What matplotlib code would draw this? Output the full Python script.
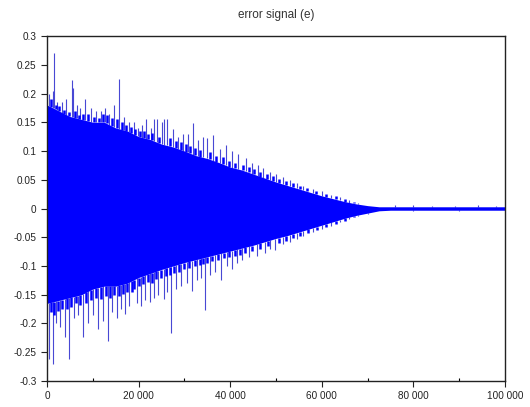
import matplotlib
matplotlib.use("Agg")
import matplotlib.pyplot as plt
from matplotlib.ticker import FuncFormatter, MultipleLocator
import numpy as np

plt.rcParams['font.family'] = ['Liberation Sans', 'DejaVu Sans']

# solid body of the error signal (envelope), samples
body_x = [0, 2500, 5000, 7500, 10000, 12500, 15000, 17500, 20000, 22500,
          25000, 27500, 30000, 32500, 35000, 37500, 40000, 42500, 45000, 47500,
          50000, 52500, 55000, 57500, 60000, 62500, 65000, 67500, 70000, 72500,
          75000, 80000, 85000, 90000, 95000, 100000]
body_top = [0.18, 0.17, 0.16, 0.155, 0.15, 0.15, 0.14, 0.135, 0.125, 0.12,
            0.112, 0.107, 0.1, 0.092, 0.087, 0.08, 0.072, 0.067, 0.06, 0.053,
            0.046, 0.04, 0.034, 0.028, 0.022, 0.017, 0.012, 0.008, 0.005, 0.003,
            0.003, 0.003, 0.003, 0.003, 0.003, 0.003]
body_bot = [-0.165, -0.16, -0.155, -0.15, -0.14, -0.135, -0.135, -0.13, -0.12, -0.113,
            -0.106, -0.1, -0.094, -0.089, -0.084, -0.079, -0.074, -0.069, -0.064, -0.058,
            -0.052, -0.047, -0.041, -0.035, -0.029, -0.023, -0.017, -0.012, -0.008, -0.004,
            -0.003, -0.003, -0.003, -0.003, -0.003, -0.003]

# big peaks sticking out of the body
peak_up_x = [500, 1200, 1500, 2200, 3300, 4200, 5400, 5700, 6500, 7200, 8400, 9600,
             10700, 11800, 12600, 13500, 14600, 15700, 16800, 17800, 18900, 19800,
             20800, 21700, 22600, 23400, 24000, 25000, 25500, 26200, 27500, 28700,
             29800, 30800, 31900, 33000, 34000, 34900, 36300, 37800, 39000, 40500,
             41800, 43400, 44700, 46000, 47200, 48700, 50000, 51500, 53000, 54500,
             56000, 58000, 60000, 62000, 64000, 66000, 68000, 76000, 80000, 84000,
             89000, 94000, 98000]
peak_up = [0.20, 0.205, 0.27, 0.185, 0.185, 0.19, 0.223, 0.21, 0.18, 0.175, 0.19, 0.175,
           0.17, 0.17, 0.175, 0.165, 0.18, 0.226, 0.16, 0.15, 0.15, 0.14,
           0.145, 0.155, 0.14, 0.155, 0.155, 0.15, 0.155, 0.155, 0.139, 0.125,
           0.13, 0.13, 0.148, 0.12, 0.125, 0.122, 0.127, 0.104, 0.11, 0.1,
           0.095, 0.087, 0.08, 0.075, 0.07, 0.063, 0.06, 0.055, 0.05, 0.045,
           0.04, 0.034, 0.03, 0.024, 0.02, 0.015, 0.01, 0.006, 0.006, 0.005,
           0.005, 0.006, 0.005]
peak_dn_x = [500, 1200, 2000, 2800, 3900, 4800, 5800, 6800, 7900, 9000, 10000, 11100,
             12200, 13300, 14200, 15200, 16100, 17000, 18000, 19600, 20500, 21500,
             22500, 23400, 24300, 25500, 26300, 27100, 28200, 29300, 30500, 31700,
             32800, 33700, 34500, 35500, 36700, 38000, 39200, 40400, 41500, 42600,
             44000, 45900, 47500, 48700, 49800, 51500, 53000, 54500, 56000, 58000,
             60000, 62000, 64000, 66000, 68000, 70000, 80000, 90000]
peak_dn = [-0.261, -0.27, -0.2, -0.206, -0.224, -0.262, -0.19, -0.185, -0.224, -0.2, -0.185, -0.209,
           -0.195, -0.23, -0.18, -0.19, -0.175, -0.183, -0.17, -0.165, -0.17, -0.16,
           -0.162, -0.155, -0.15, -0.157, -0.145, -0.217, -0.14, -0.135, -0.13, -0.143,
           -0.125, -0.12, -0.176, -0.115, -0.11, -0.125, -0.1, -0.105, -0.095, -0.09,
           -0.085, -0.083, -0.078, -0.07, -0.073, -0.062, -0.058, -0.053, -0.047, -0.04,
           -0.035, -0.03, -0.024, -0.018, -0.013, -0.009, -0.005, -0.005]

# smaller bumps along the edge of the body
bump_up_x = [900, 1900, 2700, 3700, 4700, 6100, 6900, 7800, 9000, 10200, 11300, 12200,
             13000, 14100, 15200, 16300, 17300, 18400, 19300, 20300, 21200, 22100,
             23000, 24500, 26800, 28100, 29200, 30300, 31300, 32400, 33500, 35600,
             36900, 38400, 39700, 41100, 42700, 44000, 45300, 46600, 48000, 49300,
             50700, 52200, 53700, 55200, 56800, 58800, 61000, 63000, 65000, 67000]
bump_up = [0.19, 0.18, 0.178, 0.172, 0.168, 0.17, 0.162, 0.165, 0.165, 0.16, 0.158, 0.165,
           0.162, 0.158, 0.155, 0.15, 0.145, 0.142, 0.138, 0.135, 0.135, 0.13,
           0.132, 0.125, 0.122, 0.118, 0.115, 0.112, 0.108, 0.105, 0.102, 0.098,
           0.092, 0.09, 0.083, 0.08, 0.076, 0.072, 0.068, 0.064, 0.06, 0.056,
           0.052, 0.048, 0.044, 0.04, 0.036, 0.031, 0.026, 0.021, 0.016, 0.012]
bump_dn_x = [800, 1600, 2400, 3300, 4300, 5200, 6300, 7300, 8500, 9500, 10600, 11700,
             12800, 13800, 14700, 15700, 16600, 17500, 18500, 19100, 20000, 21000,
             22000, 23000, 23900, 24800, 25900, 26800, 27700, 28800, 29900, 31100,
             32300, 33300, 34100, 35000, 36100, 37300, 38600, 39800, 41000, 42100,
             43300, 44700, 46600, 48200, 50600, 52200, 53800, 55300, 57000, 59000,
             61000, 63000, 65000, 67000, 69000]
bump_dn = [-0.18, -0.185, -0.178, -0.175, -0.175, -0.172, -0.165, -0.168, -0.165, -0.16, -0.155, -0.158,
           -0.152, -0.155, -0.15, -0.152, -0.148, -0.145, -0.145, -0.14, -0.135, -0.132,
           -0.128, -0.13, -0.122, -0.12, -0.118, -0.115, -0.112, -0.11, -0.106, -0.104,
           -0.1, -0.098, -0.096, -0.094, -0.092, -0.09, -0.086, -0.084, -0.082, -0.08,
           -0.077, -0.074, -0.07, -0.066, -0.06, -0.056, -0.052, -0.048, -0.043, -0.037,
           -0.032, -0.027, -0.021, -0.015, -0.01]

fig = plt.figure(figsize=(5.3, 4.07), dpi=100)
ax = fig.add_axes([0.0887, 0.0639, 0.8641, 0.8476])

spike_col = '#4848d4'
ax.vlines(peak_up_x, np.interp(peak_up_x, body_x, body_top), peak_up, color=spike_col, linewidth=0.8)
ax.vlines(peak_dn_x, peak_dn, np.interp(peak_dn_x, body_x, body_bot), color=spike_col, linewidth=0.8)
ax.vlines(bump_up_x, np.interp(bump_up_x, body_x, body_top), bump_up, color='#0000ff', linewidth=1.8)
ax.vlines(bump_dn_x, bump_dn, np.interp(bump_dn_x, body_x, body_bot), color='#0000ff', linewidth=1.8)
ax.fill_between(body_x, body_bot, body_top, color='#0000ff', linewidth=0, zorder=3)

ax.set_xlim(0, 100000)
ax.set_ylim(-0.3, 0.3)
ax.xaxis.set_major_locator(MultipleLocator(20000))
ax.xaxis.set_minor_locator(MultipleLocator(10000))
ax.yaxis.set_major_locator(MultipleLocator(0.05))
ax.xaxis.set_major_formatter(FuncFormatter(lambda v, p: f"{int(round(v)):,}".replace(',', ' ')))
ax.yaxis.set_major_formatter(FuncFormatter(lambda v, p: f"{round(v, 2):g}"))
ax.tick_params(axis='both', which='major', labelsize=7.2, length=4, width=0.8, colors='#222222')
ax.tick_params(axis='x', which='minor', length=2, width=0.8, direction='in')
for s in ax.spines.values():
    s.set_linewidth(1.0)
    s.set_color('#222222')
    s.set_zorder(4)

ax.set_title('error signal (e)', fontsize=8.5, color='#333333', pad=13)

fig.savefig('out.png', dpi=100)
